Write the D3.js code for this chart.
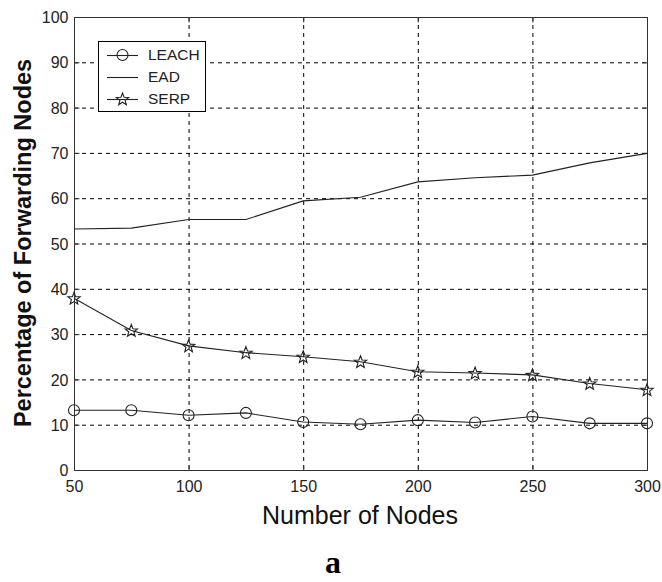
<!DOCTYPE html>
<html>
<head>
<meta charset="utf-8">
<script src="https://cdn.jsdelivr.net/npm/d3@7"></script>
<style>
  html, body { margin: 0; padding: 0; background: #fff; }
  svg { display: block; }
</style>
</head>
<body>
<svg id="chart" width="662" height="582"></svg>
<script>
// Number of nodes in the network (x values)
const nodes = [50, 75, 100, 125, 150, 175, 200, 225, 250, 275, 300];

// Percentage of forwarding nodes per protocol
const leach = [13.2, 13.2, 12.1, 12.6, 10.6, 10.1, 11.0, 10.5, 11.8, 10.3, 10.3];
const ead   = [53.2, 53.4, 55.3, 55.3, 59.4, 60.2, 63.6, 64.5, 65.1, 67.8, 69.9];
const serp  = [37.9, 30.8, 27.4, 25.9, 25.0, 23.9, 21.7, 21.4, 21.0, 19.1, 17.7];

const seriesNames = ["LEACH", "EAD", "SERP"];
const seriesMarkers = ["circle", "none", "star"];

const xTicks = [50, 100, 150, 200, 250, 300];
const yTicks = [0, 10, 20, 30, 40, 50, 60, 70, 80, 90, 100];

const svg = d3.select("#chart");
const plotL = 74, plotR = 647, plotT = 17, plotB = 470;

const x = d3.scaleLinear().domain([50, 300]).range([plotL, plotR]);
const y = d3.scaleLinear().domain([0, 100]).range([plotB, plotT]);

const tickFont = "'Liberation Sans', Arial, sans-serif";

// dashed grid
const grid = svg.append("g");
grid.selectAll("line.gy").data(yTicks.filter(v => v > 0 && v < 100)).join("line")
  .attr("x1", plotL).attr("x2", plotR)
  .attr("y1", d => y(d) + 0.5).attr("y2", d => y(d) + 0.5)
  .attr("stroke", "#000").attr("stroke-width", 1).attr("stroke-dasharray", "4,4");
grid.selectAll("line.gx").data(xTicks.filter(v => v > 50 && v < 300)).join("line")
  .attr("y1", plotT).attr("y2", plotB)
  .attr("x1", d => x(d) + 0.5).attr("x2", d => x(d) + 0.5)
  .attr("stroke", "#000").attr("stroke-width", 1).attr("stroke-dasharray", "4,4");

// axes (box with inward ticks)
const xAxis = d3.axisBottom(x).tickValues(xTicks).tickSize(-5).tickPadding(10).tickFormat(d3.format("d"));
const yAxis = d3.axisLeft(y).tickValues(yTicks).tickSize(-5).tickPadding(6).tickFormat(d3.format("d"));

const gx = svg.append("g").attr("transform", `translate(0,${plotB + 0.5})`).call(xAxis);
const gy = svg.append("g").attr("transform", `translate(${plotL + 0.5},0)`).call(yAxis);
[gx, gy].forEach(g => {
  g.select(".domain").remove();
  g.selectAll(".tick line").attr("stroke", "#333");
  g.selectAll(".tick text").attr("fill", "#222")
    .style("font-family", tickFont).style("font-size", "16px");
});
gy.selectAll(".tick text").attr("dy", "0.35em");

// top/right ticks
svg.append("g").attr("transform", `translate(0,${plotT + 0.5})`)
  .call(d3.axisTop(x).tickValues(xTicks).tickSize(-5).tickFormat(""))
  .call(g => g.select(".domain").remove())
  .selectAll(".tick line").attr("stroke", "#333");
svg.append("g").attr("transform", `translate(${plotR + 0.5},0)`)
  .call(d3.axisRight(y).tickValues(yTicks).tickSize(-5).tickFormat(""))
  .call(g => g.select(".domain").remove())
  .selectAll(".tick line").attr("stroke", "#333");

svg.append("rect")
  .attr("x", plotL + 0.5).attr("y", plotT + 0.5)
  .attr("width", plotR - plotL).attr("height", plotB - plotT)
  .attr("fill", "none").attr("stroke", "#333").attr("stroke-width", 1);

// series lines
const line = d3.line().x((d, i) => x(nodes[i])).y(d => y(d));
const allSeries = [leach, ead, serp];
allSeries.forEach(vals => {
  svg.append("path").datum(vals)
    .attr("d", line).attr("fill", "none")
    .attr("stroke", "#222").attr("stroke-width", 1.1);
});

// five-pointed star path
function starPath(r) {
  const pts = [];
  for (let k = 0; k < 10; k++) {
    const rr = k % 2 === 0 ? r : r * 0.42;
    const a = -Math.PI / 2 + k * Math.PI / 5;
    pts.push([rr * Math.cos(a), rr * Math.sin(a)]);
  }
  return "M" + pts.map(p => p.join(",")).join("L") + "Z";
}

function drawMarker(g, type, cx, cy) {
  if (type === "circle") {
    g.append("circle").attr("cx", cx).attr("cy", cy).attr("r", 5.5)
      .attr("fill", "none").attr("stroke", "#222").attr("stroke-width", 1.1);
  } else if (type === "star") {
    g.append("path").attr("d", starPath(6.5))
      .attr("transform", `translate(${cx},${cy + 0.5})`)
      .attr("fill", "none").attr("stroke", "#222").attr("stroke-width", 1.1);
  }
}

const markerLayer = svg.append("g");
allSeries.forEach((vals, s) => {
  vals.forEach((v, i) => drawMarker(markerLayer, seriesMarkers[s], x(nodes[i]), y(v)));
});

// legend
const lg = svg.append("g");
lg.append("rect").attr("x", 98.5).attr("y", 41.5).attr("width", 107).attr("height", 70)
  .attr("fill", "#fff").attr("stroke", "#000").attr("stroke-width", 1);
seriesNames.forEach((name, i) => {
  const ly = 55 + i * 22;
  lg.append("line").attr("x1", 107).attr("x2", 138).attr("y1", ly + 0.5).attr("y2", ly + 0.5)
    .attr("stroke", "#222").attr("stroke-width", 1.1);
  drawMarker(lg, seriesMarkers[i], 122.5, ly);
  lg.append("text").attr("x", 148).attr("y", ly).attr("dy", "0.35em")
    .attr("fill", "#222").style("font-family", tickFont).style("font-size", "15.5px")
    .text(name);
});

// axis titles
svg.append("text")
  .attr("x", 360).attr("y", 524)
  .attr("text-anchor", "middle").attr("fill", "#111")
  .style("font-family", tickFont).style("font-size", "25px")
  .text("Number of Nodes");

svg.append("text")
  .attr("transform", `translate(31,${243}) rotate(-90)`)
  .attr("text-anchor", "middle").attr("fill", "#111")
  .style("font-family", tickFont).style("font-size", "23.5px").style("font-weight", "bold")
  .text("Percentage of Forwarding Nodes");

// panel letter
svg.append("text")
  .attr("x", 333).attr("y", 573)
  .attr("text-anchor", "middle").attr("fill", "#000")
  .style("font-family", "'Liberation Serif', 'Times New Roman', serif")
  .style("font-size", "32px").style("font-weight", "bold")
  .text("a");
</script>
</body>
</html>
